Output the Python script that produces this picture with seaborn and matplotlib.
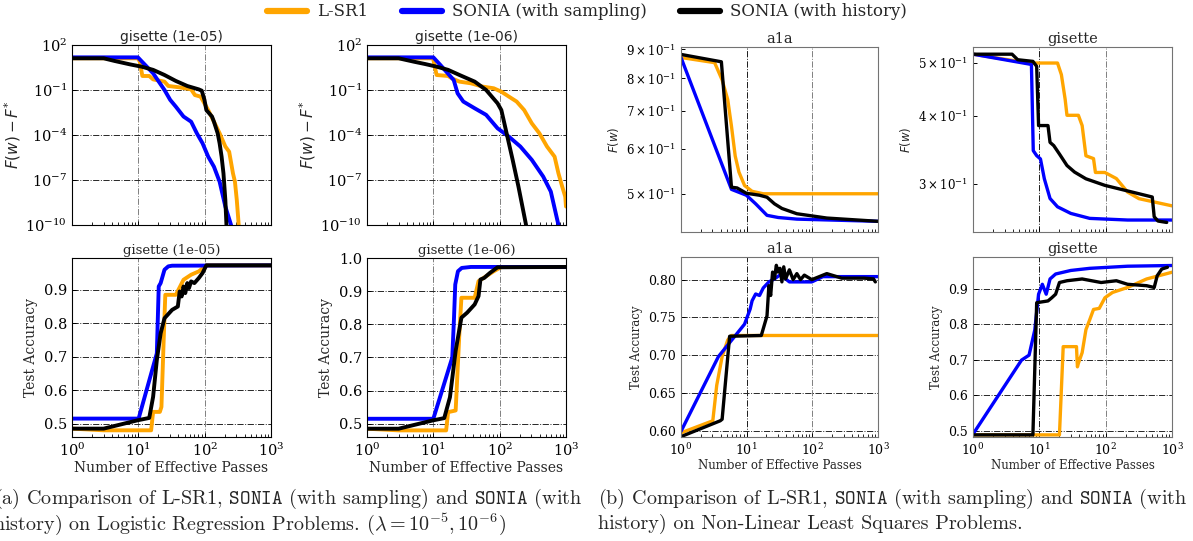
import matplotlib
matplotlib.use("Agg")
import matplotlib.pyplot as plt
import numpy as np
import pandas as pd
import seaborn as sns
from matplotlib.lines import Line2D
from matplotlib.ticker import FixedLocator, FixedFormatter, LogLocator, NullFormatter, NullLocator

METHODS = ["L-SR1", "SONIA (with sampling)", "SONIA (with history)"]
COLORS = {"L-SR1": "orange", "SONIA (with sampling)": "blue", "SONIA (with history)": "black"}

# (a) logistic regression, gisette lambda=1e-5 : F(w) - F*
gis5_loss_sr1_x = [1, 9.8, 10.5, 11.5, 14.6, 16.7, 24.8, 28.3, 42, 62.5, 71.3, 86.9, 99, 113, 138, 168, 205, 234, 267, 286, 305, 326]
gis5_loss_sr1_y = [13, 13, 8, 0.86, 0.86, 0.51, 0.36, 0.185, 0.15, 0.11, 0.046, 0.036, 0.013, 4.6e-3, 7.7e-4, 1.3e-4, 1.7e-5, 7.7e-6, 2.8e-7, 7.7e-8, 4.6e-9, 1e-10]
gis5_loss_samp_x = [1, 9.85, 16.7, 24.8, 30.2, 36.8, 48, 62.5, 76.2, 92.9, 113, 138, 168, 205, 250]
gis5_loss_samp_y = [15, 15, 1.3, 0.1, 0.022, 7.7e-3, 1.7e-3, 7.7e-4, 1.3e-4, 2.8e-5, 3.6e-6, 7.7e-7, 7.7e-8, 1.7e-9, 1e-10]
gis5_loss_hist_x = [1, 3.0, 4.4, 7.5, 11.2, 16.7, 24.8, 36.8, 54.7, 81.5, 90.4, 99.3, 106, 129, 138, 157, 168, 180, 192, 205, 213]
gis5_loss_hist_y = [13, 13, 8.6, 5.1, 3.6, 2.2, 1.0, 0.4, 0.185, 0.11, 0.09, 0.022, 4.6e-3, 1.7e-3, 7.7e-4, 1.3e-4, 2.8e-5, 3.6e-6, 2.8e-7, 4.6e-9, 1e-10]

# gisette lambda=1e-6 : F(w) - F*
gis6_loss_sr1_x = [1, 9.9, 11.2, 16.7, 19, 24.8, 36.8, 54.7, 81.5, 106, 138, 180, 234, 305, 397, 517, 673, 769, 877, 975, 1000]
gis6_loss_sr1_y = [13, 13, 1.0, 0.86, 0.6, 0.36, 0.28, 0.17, 0.13, 0.077, 0.036, 0.017, 4.6e-3, 6e-4, 1.3e-4, 1.7e-5, 3.6e-6, 2.8e-7, 3.6e-8, 7.7e-9, 1.7e-9]
gis6_loss_samp_x = [1, 10, 12.8, 20.3, 23.2, 28.3, 42.1, 62.5, 92.9, 138, 205, 305, 453, 590, 769]
gis6_loss_samp_y = [15, 15, 4.6, 0.46, 0.06, 0.017, 6e-3, 2.2e-3, 2.8e-4, 7.7e-5, 1.7e-5, 2.2e-6, 1.7e-7, 1.7e-8, 1e-10]
gis6_loss_hist_x = [1, 3.0, 5.1, 7.5, 11.2, 16.7, 24.8, 42.1, 62.5, 92.9, 106, 129, 157, 192, 250]
gis6_loss_hist_y = [13, 13, 7.7, 5.4, 3.6, 2.2, 1.0, 0.36, 0.1, 0.013, 4.6e-3, 1e-4, 2.2e-6, 3.6e-8, 1e-10]

# gisette lambda=1e-5 : test accuracy
gis5_acc_sr1_x = [1, 3.0, 15.6, 16.7, 21.1, 22.3, 24.1, 25.5, 36.8, 48, 62.5, 81.5, 106, 1000]
gis5_acc_sr1_y = [0.485, 0.48, 0.48, 0.535, 0.535, 0.55, 0.75, 0.885, 0.885, 0.93, 0.945, 0.955, 0.973, 0.973]
gis5_acc_samp_x = [1, 10.1, 19.0, 20.3, 21.7, 24.8, 28.3, 32.3, 1000]
gis5_acc_samp_y = [0.515, 0.515, 0.71, 0.91, 0.92, 0.96, 0.97, 0.972, 0.973]
gis5_acc_hist_x = [1, 3.0, 9.8, 14.6, 16.7, 19, 21.7, 24.8, 32.3, 39.4, 42, 45, 48, 51, 54.7, 58, 62.5, 70, 81.5, 92.9, 106, 1000]
gis5_acc_hist_y = [0.485, 0.485, 0.51, 0.517, 0.58, 0.69, 0.77, 0.815, 0.84, 0.85, 0.895, 0.88, 0.91, 0.89, 0.92, 0.905, 0.925, 0.92, 0.935, 0.95, 0.973, 0.973]

# gisette lambda=1e-6 : test accuracy
gis6_acc_sr1_x = [1, 3.0, 15.6, 16.7, 21.7, 23.2, 24.8, 26.5, 42, 48, 62.5, 81.5, 106, 1000]
gis6_acc_sr1_y = [0.485, 0.48, 0.48, 0.535, 0.54, 0.66, 0.78, 0.88, 0.88, 0.93, 0.945, 0.96, 0.973, 0.973]
gis6_acc_samp_x = [1, 10, 19.3, 20.5, 21.4, 23.5, 26.8, 36.8, 1000]
gis6_acc_samp_y = [0.515, 0.515, 0.70, 0.82, 0.92, 0.96, 0.97, 0.973, 0.973]
gis6_acc_hist_x = [1, 3.0, 9.8, 14.6, 17.8, 21.7, 26.5, 32.3, 42, 48, 51.3, 58.5, 71.3, 92.9, 1000]
gis6_acc_hist_y = [0.485, 0.485, 0.51, 0.517, 0.58, 0.72, 0.82, 0.835, 0.86, 0.885, 0.935, 0.94, 0.955, 0.972, 0.973]

# (b) non-linear least squares, a1a : F(w)
a1a_fw_sr1_x = [1, 3.25, 4.23, 5.15, 5.87, 6.69, 7.63, 9.29, 12.1, 17.9, 1000]
a1a_fw_sr1_y = [0.87, 0.852, 0.794, 0.733, 0.658, 0.583, 0.546, 0.517, 0.505, 0.5, 0.5]
a1a_fw_samp_x = [1, 5.87, 9.9, 13.7, 20.4, 30.2, 58.1, 1000]
a1a_fw_samp_y = [0.87, 0.509, 0.497, 0.48, 0.458, 0.454, 0.451, 0.447]
a1a_fw_hist_x = [1, 4.12, 5.87, 7.14, 9.9, 15.7, 20.4, 26.5, 34.4, 58.1, 166, 1000]
a1a_fw_hist_y = [0.881, 0.855, 0.5135, 0.512, 0.501, 0.497, 0.493, 0.48, 0.471, 0.461, 0.453, 0.447]

# gisette : F(w)
gisnl_fw_sr1_x = [1, 7.0, 18.8, 21.5, 24.5, 26.1, 38.8, 44.2, 50.4, 65.6, 70.1, 97.4, 145, 214, 318, 1000]
gisnl_fw_sr1_y = [0.519, 0.5, 0.5, 0.476, 0.429, 0.401, 0.401, 0.384, 0.338, 0.334, 0.315, 0.315, 0.307, 0.290, 0.282, 0.2736]
gisnl_fw_samp_x = [1, 7.6, 8.1, 9.12, 10.4, 11.9, 14.5, 18.8, 29.8, 57.5, 214, 1000]
gisnl_fw_samp_y = [0.519, 0.497, 0.3454, 0.3382, 0.3335, 0.3067, 0.2822, 0.2725, 0.265, 0.2595, 0.2577, 0.2577]
gisnl_fw_hist_x = [1, 3.88, 4.72, 8.0, 9.12, 9.74, 13.5, 14.5, 16.5, 20.1, 26.1, 34.0, 50.4, 97.4, 504, 539, 615, 832]
gisnl_fw_hist_y = [0.519, 0.519, 0.507, 0.5035, 0.493, 0.384, 0.384, 0.3577, 0.3528, 0.3405, 0.3244, 0.3155, 0.3067, 0.2983, 0.284, 0.2613, 0.2566, 0.2551]

# a1a : test accuracy
a1a_acc_sr1_x = [1, 3.05, 3.5, 4.23, 5.15, 5.87, 1000]
a1a_acc_sr1_y = [0.597, 0.613, 0.66, 0.698, 0.72, 0.726, 0.726]
a1a_acc_samp_x = [1, 3.71, 9.28, 11.3, 12.1, 13.7, 15.7, 17.9, 21.8, 26.5, 34.4, 39.2, 44.7, 98.2, 145, 1000]
a1a_acc_samp_y = [0.599, 0.698, 0.741, 0.761, 0.772, 0.781, 0.779, 0.789, 0.797, 0.801, 0.808, 0.801, 0.797, 0.797, 0.804, 0.804]
a1a_acc_hist_x = [1, 3.96, 4.23, 5.5, 16.7, 20.4, 21.8, 23.2, 24.8, 26.5, 28.3, 30.2, 32.2, 34.4, 36.7, 39.2, 44.7, 51, 58.1, 66.2, 75.5, 98.2, 166, 280, 615, 853, 911]
a1a_acc_hist_y = [0.592, 0.613, 0.615, 0.725, 0.726, 0.752, 0.792, 0.779, 0.81, 0.801, 0.819, 0.81, 0.815, 0.797, 0.817, 0.801, 0.813, 0.80, 0.808, 0.80, 0.806, 0.80, 0.808, 0.802, 0.802, 0.801, 0.797]

# gisette : test accuracy
gisnl_acc_sr1_x = [1, 20.1, 22.9, 36.3, 37.5, 38.8, 44.2, 50.4, 57.5, 65.6, 80, 97.4, 127, 214, 414, 1000]
gisnl_acc_sr1_y = [0.488, 0.488, 0.737, 0.737, 0.68, 0.69, 0.72, 0.785, 0.813, 0.842, 0.845, 0.875, 0.89, 0.904, 0.928, 0.947]
gisnl_acc_samp_x = [1, 5.39, 7.0, 8.54, 9.74, 11.1, 12.7, 14.5, 17.6, 29.8, 57.5, 214, 1000]
gisnl_acc_samp_y = [0.49, 0.699, 0.713, 0.784, 0.885, 0.913, 0.885, 0.928, 0.942, 0.952, 0.958, 0.964, 0.966]
gisnl_acc_hist_x = [1, 8.0, 9.12, 13.5, 15.4, 17.6, 20.1, 26.1, 44.2, 85.4, 145, 214, 414, 539, 598, 701, 853]
gisnl_acc_hist_y = [0.488, 0.488, 0.861, 0.866, 0.875, 0.885, 0.918, 0.923, 0.928, 0.918, 0.923, 0.913, 0.909, 0.904, 0.937, 0.956, 0.961]

a1a_fw_ticks = [0.5, 0.6, 0.7, 0.8, 0.9]
gisnl_fw_ticks = [0.3, 0.4, 0.5]


def frame(sr1_x, sr1_y, samp_x, samp_y, hist_x, hist_y):
    parts = []
    for name, xs, ys in zip(METHODS, [sr1_x, samp_x, hist_x], [sr1_y, samp_y, hist_y]):
        parts.append(pd.DataFrame({"passes": xs, "value": ys, "method": name}))
    return pd.concat(parts, ignore_index=True)


sns.set_theme(style="white")
plt.rcParams["font.family"] = ["DejaVu Serif"]
plt.rcParams["mathtext.fontset"] = "dejavuserif"
plt.rcParams["axes.edgecolor"] = "black"
plt.rcParams["axes.linewidth"] = 0.8

W, H = 1193, 541
fig = plt.figure(figsize=(W / 100, H / 100), dpi=100)
fig.patch.set_facecolor("white")


def place(left, top, right, bottom):
    return fig.add_axes([left / W, 1 - bottom / H, (right - left) / W, (bottom - top) / H])


def draw(ax, df, lw, bottom_row, tick_size, dark_first=False):
    ax.set_xscale("log")
    sns.lineplot(data=df, x="passes", y="value", hue="method", hue_order=METHODS,
                 palette=COLORS, estimator=None, sort=False, linewidth=lw,
                 legend=False, ax=ax)
    ax.set_xlim(1, 1000)
    ax.xaxis.set_major_locator(FixedLocator([1, 10, 100, 1000]))
    ax.xaxis.set_minor_locator(LogLocator(base=10, subs=np.arange(2, 10)))
    ax.xaxis.set_minor_formatter(NullFormatter())
    ax.tick_params(axis="both", which="both", direction="in", labelsize=tick_size,
                   colors="black", bottom=True, left=True)
    ax.tick_params(axis="both", which="major", length=3, width=0.7)
    ax.tick_params(axis="x", which="minor", length=2, width=0.6)
    ax.tick_params(axis="x", labelbottom=bottom_row)
    ax.grid(True, axis="x", which="major", color="0.5", ls="-.", lw=0.7)
    if dark_first:
        ax.xaxis.get_major_ticks()[1].gridline.set_color("0.1")
    ax.set_xlabel("Number of Effective Passes" if bottom_row else "")
    ax.set_ylabel("")


# ---- (a) logistic regression ----
loss_panels = [
    (place(72, 45, 271, 225), frame(gis5_loss_sr1_x, gis5_loss_sr1_y, gis5_loss_samp_x, gis5_loss_samp_y, gis5_loss_hist_x, gis5_loss_hist_y), "gisette (1e-05)"),
    (place(367, 45, 566, 225), frame(gis6_loss_sr1_x, gis6_loss_sr1_y, gis6_loss_samp_x, gis6_loss_samp_y, gis6_loss_hist_x, gis6_loss_hist_y), "gisette (1e-06)"),
]
for ax, df, title in loss_panels:
    ax.set_yscale("log")
    draw(ax, df, 2.8, False, 10.5)
    ax.set_ylim(1e-10, 1e2)
    ax.yaxis.set_major_locator(FixedLocator([1e-10, 1e-7, 1e-4, 1e-1, 1e2]))
    ax.yaxis.set_minor_locator(NullLocator())
    ax.grid(True, axis="y", which="major", color="0.15", ls="-.", lw=0.7)
    ax.set_title(title, fontsize=10, family="DejaVu Sans", pad=3)
    ax.set_ylabel(r"$F(w) - F^{*}$", fontsize=11, math_fontfamily="dejavusans", labelpad=2)

acc_panels = [
    (place(72, 258, 271, 437), frame(gis5_acc_sr1_x, gis5_acc_sr1_y, gis5_acc_samp_x, gis5_acc_samp_y, gis5_acc_hist_x, gis5_acc_hist_y), "gisette (1e-05)", 0.995),
    (place(367, 258, 566, 437), frame(gis6_acc_sr1_x, gis6_acc_sr1_y, gis6_acc_samp_x, gis6_acc_samp_y, gis6_acc_hist_x, gis6_acc_hist_y), "gisette (1e-06)", 1.0),
]
for ax, df, title, top in acc_panels:
    draw(ax, df, 2.8, True, 10.5)
    ax.set_ylim(0.46, top)
    ax.yaxis.set_major_locator(FixedLocator([0.5, 0.6, 0.7, 0.8, 0.9, 1.0]))
    ax.grid(True, axis="y", which="major", color="0.15", ls="-.", lw=0.7)
    ax.set_title(title, fontsize=9.5, pad=3)
    ax.set_ylabel("Test Accuracy", fontsize=10)
    ax.set_xlabel("Number of Effective Passes", fontsize=10, labelpad=1)

# ---- (b) non-linear least squares ----
fw_panels = [
    (place(681, 47, 878, 232), frame(a1a_fw_sr1_x, a1a_fw_sr1_y, a1a_fw_samp_x, a1a_fw_samp_y, a1a_fw_hist_x, a1a_fw_hist_y), "a1a", (0.428, 0.908), a1a_fw_ticks),
    (place(973, 47, 1172, 232), frame(gisnl_fw_sr1_x, gisnl_fw_sr1_y, gisnl_fw_samp_x, gisnl_fw_samp_y, gisnl_fw_hist_x, gisnl_fw_hist_y), "gisette", (0.245, 0.535), gisnl_fw_ticks),
]
for ax, df, title, lims, ticks in fw_panels:
    ax.set_yscale("log")
    draw(ax, df, 2.4, False, 8.5, dark_first=True)
    ax.set_ylim(*lims)
    ax.yaxis.set_major_locator(FixedLocator(ticks))
    ax.yaxis.set_major_formatter(FixedFormatter([rf"${int(round(t * 10))}\times10^{{-1}}$" for t in ticks]))
    ax.yaxis.set_minor_locator(NullLocator())
    ax.set_title(title, fontsize=10.5, pad=3)
    ax.set_ylabel(r"$F(w)$", fontsize=8.5, math_fontfamily="dejavusans")
    for s in ax.spines.values():
        s.set_color("0.45")

nl_acc_panels = [
    (place(681, 257, 878, 437), frame(a1a_acc_sr1_x, a1a_acc_sr1_y, a1a_acc_samp_x, a1a_acc_samp_y, a1a_acc_hist_x, a1a_acc_hist_y), "a1a", (0.5915, 0.83), [0.60, 0.65, 0.70, 0.75, 0.80]),
    (place(973, 257, 1172, 437), frame(gisnl_acc_sr1_x, gisnl_acc_sr1_y, gisnl_acc_samp_x, gisnl_acc_samp_y, gisnl_acc_hist_x, gisnl_acc_hist_y), "gisette", (0.482, 0.99), [0.5, 0.6, 0.7, 0.8, 0.9]),
]
for ax, df, title, lims, ticks in nl_acc_panels:
    draw(ax, df, 2.4, True, 9, dark_first=True)
    ax.set_ylim(*lims)
    ax.yaxis.set_major_locator(FixedLocator(ticks))
    ax.grid(True, axis="y", which="major", color="0.15", ls="-.", lw=0.7)
    ax.set_title(title, fontsize=10.5, pad=3)
    ax.set_ylabel("Test Accuracy", fontsize=8.5)
    ax.set_xlabel("Number of Effective Passes", fontsize=8.5, labelpad=1)
    for s in ax.spines.values():
        s.set_color("0.45")

handles = [Line2D([], [], color=COLORS[m], lw=4.5) for m in METHODS]
fig.legend(handles, METHODS, loc="center", bbox_to_anchor=(587 / W, 1 - 12 / H), ncol=3,
           frameon=False, fontsize=12, handlelength=2.4, handletextpad=0.6, columnspacing=2.0)

cap = dict(fontsize=14.5, family="cmr10", math_fontfamily="cm", va="center", ha="left")
fig.text(-6 / W, 1 - 499 / H, r"(a) Comparison of L-SR1, $\mathtt{SONIA}$ (with sampling) and $\mathtt{SONIA}$ (with", **cap)
fig.text(-7 / W, 1 - 524 / H, r"history) on Logistic Regression Problems. $(\lambda = 10^{-5}, 10^{-6})$", **cap)
fig.text(598 / W, 1 - 499 / H, r"(b) Comparison of L-SR1, $\mathtt{SONIA}$ (with sampling) and $\mathtt{SONIA}$ (with", **cap)
fig.text(598 / W, 1 - 524 / H, r"history) on Non-Linear Least Squares Problems.", **cap)

fig.savefig("out.png", dpi=100)
